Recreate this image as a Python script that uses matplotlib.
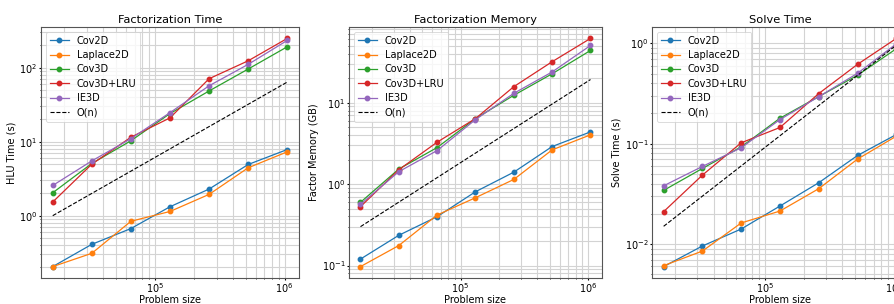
import matplotlib
matplotlib.use("Agg")
import matplotlib.pyplot as plt
import numpy as np

sizes = [16384, 32768, 65536, 131072, 262144, 524288, 1048576]
series_names = ["Cov2D", "Laplace2D", "Cov3D", "Cov3D+LRU", "IE3D"]
colors = ["#1f77b4", "#ff7f0e", "#2ca02c", "#d62728", "#9467bd"]

hlu_time = {
    "Cov2D":     [0.205, 0.41, 0.67, 1.32, 2.29, 4.92, 7.84],
    "Laplace2D": [0.205, 0.31, 0.84, 1.14, 1.94, 4.44, 7.3],
    "Cov3D":     [2.04, 5.08, 10.3, 24.0, 48.5, 96.0, 192.0],
    "Cov3D+LRU": [1.53, 4.97, 11.5, 21.0, 71.0, 124.0, 249.0],
    "IE3D":      [2.56, 5.5, 11.0, 24.7, 57.0, 111.0, 234.0],
}
factor_mem = {
    "Cov2D":     [0.12, 0.235, 0.398, 0.805, 1.40, 2.89, 4.37],
    "Laplace2D": [0.097, 0.176, 0.417, 0.68, 1.14, 2.63, 4.02],
    "Cov3D":     [0.597, 1.53, 2.81, 6.37, 12.3, 22.6, 43.7],
    "Cov3D+LRU": [0.528, 1.50, 3.27, 6.37, 15.7, 31.8, 61.4],
    "IE3D":      [0.564, 1.42, 2.58, 6.19, 13.0, 23.8, 50.3],
}
solve_time = {
    "Cov2D":     [0.00595, 0.00955, 0.0141, 0.0239, 0.0408, 0.0763, 0.1234],
    "Laplace2D": [0.00608, 0.0085, 0.0162, 0.0213, 0.0356, 0.0702, 0.1188],
    "Cov3D":     [0.0342, 0.0566, 0.0929, 0.1794, 0.2947, 0.481, 0.885],
    "Cov3D+LRU": [0.021, 0.0486, 0.102, 0.145, 0.316, 0.618, 1.12],
    "IE3D":      [0.038, 0.0593, 0.091, 0.174, 0.294, 0.503, 0.99],
}
on_scale = [1.0, 0.3, 0.015]

titles = ["Factorization Time", "Factorization Memory", "Solve Time"]
ylabels = ["HLU Time (s)", "Factor Memory (GB)", "Solve Time (s)"]
xlabel = "Problem size"
datasets = [hlu_time, factor_mem, solve_time]

W, H = 895, 304
fig = plt.figure(figsize=(W / 100, H / 100), dpi=100)
boxes = [(41, 258), (349, 253), (652, 256)]
top, bottom = 27, 278

n = np.array(sizes, dtype=float)
for i, ((x0, w), data) in enumerate(zip(boxes, datasets)):
    ax = fig.add_axes([x0 / W, (H - bottom) / H, w / W, (bottom - top) / H])
    for name, c in zip(series_names, colors):
        ax.plot(sizes, data[name], "-o", color=c, lw=0.9, ms=3.2, label=name)
    ax.plot(sizes, on_scale[i] * n / n[0], "--", color="black", lw=0.8, label="O(n)")
    ax.set_xscale("log")
    ax.set_yscale("log")
    ax.grid(True, which="both", color="#d3d3d3", lw=0.8)
    ax.set_axisbelow(True)
    ax.set_title(titles[i], fontsize=8.2, pad=3)
    ax.set_ylabel(ylabels[i], fontsize=7, labelpad=2)
    ax.set_xlabel(xlabel, fontsize=7, labelpad=0)
    ax.tick_params(axis="x", which="major", labelsize=7, pad=0.5, length=1.5)
    ax.tick_params(axis="y", which="major", labelsize=7, pad=1.0, length=1.5)
    ax.tick_params(axis="both", which="minor", length=1.0)
    for s in ax.spines.values():
        s.set_color("#555555")
        s.set_linewidth(0.8)
    leg = ax.legend(loc="upper left", fontsize=7, handlelength=2.0,
                    borderpad=0.4, labelspacing=0.45)
    leg.get_frame().set_linewidth(0.6)

fig.savefig("out.png", dpi=100)
